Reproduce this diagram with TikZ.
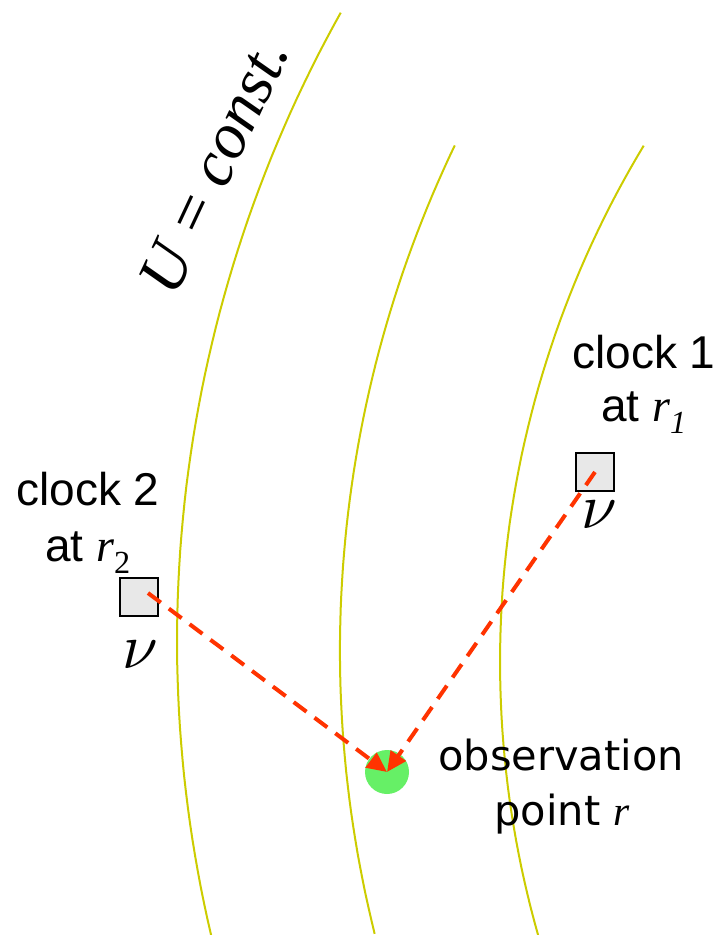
\documentclass[tikz,border=0pt]{standalone}
\usepackage{fontspec}
\setmainfont{Liberation Serif}
\newfontfamily\arialfont{Liberation Sans}
\newfontfamily\verdfont{DejaVu Sans}
\usetikzlibrary{arrows.meta}
\definecolor{equipot}{RGB}{204,204,0}
\definecolor{signal}{RGB}{255,51,0}
\definecolor{obsgreen}{RGB}{102,240,102}
\definecolor{boxgray}{RGB}{232,232,232}
\newcommand{\bignu}{\scalebox{6.4}{$\nu$}}

\begin{document}
\begin{tikzpicture}[x=1pt, y=-1pt,
    every node/.style={inner sep=0pt},
    clockbox/.style={draw, line width=1.5pt, fill=boxgray, minimum size=38pt},
    clocklabel/.style={font=\arialfont\fontsize{46}{55}\selectfont, anchor=base},
    obslabel/.style={font=\verdfont\fontsize{41.5}{50}\selectfont, anchor=base},
    obsdot/.style={circle, fill=obsgreen, minimum size=44pt},
    sig/.style={signal, line width=4pt, dash pattern=on 16pt off 10pt, -{Triangle[length=20pt,width=18pt]}},
    eqline/.style={equipot, line width=2pt}]
    \useasboundingbox (0,0) rectangle (718,935);

    % surfaces of equal potential
    \draw[eqline] plot[domain=166.8:209.2, samples=60] ({1465+1288*cos(\x)}, {641+1288*sin(\x)});
    \draw[eqline] plot[domain=166.0:205.6, samples=60] ({1509.7+1169.8*cos(\x)}, {650.8+1169.8*sin(\x)});
    \draw[eqline] plot[domain=164.1:211.1, samples=60] ({1499.5+999.5*cos(\x)}, {661.9+999.5*sin(\x)});
    \node[rotate=65, font=\fontsize{65}{75}\selectfont] (ulab) at (214,166) {\textit{U} = \textit{const.}};

    % clocks
    \node[clockbox] (clk1) at (595,472) {};
    \node[clockbox] (clk2) at (139,597) {};
    \node[clocklabel] (lab1) at (644,368) {clock 1};
    \node[clocklabel] (lab1b) at (644,421) {at {\rmfamily\itshape r\textsubscript{1}}};
    \node[clocklabel] (lab2) at (88,505) {clock 2};
    \node[clocklabel] (lab2b) at (88,561) {at {\rmfamily\itshape r}{\rmfamily\textsubscript{2}}};
    \node (nu1) at (599,515) {\bignu};
    \node (nu2) at (140,655) {\bignu};

    % observer
    \node[obsdot] (obs) at (387,772) {};
    \node[obslabel] (obslab) at (561,770) {observation};
    \node[obslabel] (obslabb) at (562,825) {point {\rmfamily\itshape r}};

    \coordinate (src2) at (148,593);
    \draw[sig] (src2) -- (obs.center);
    \draw[sig] (clk1.center) -- (obs.center);
\end{tikzpicture}
\end{document}
